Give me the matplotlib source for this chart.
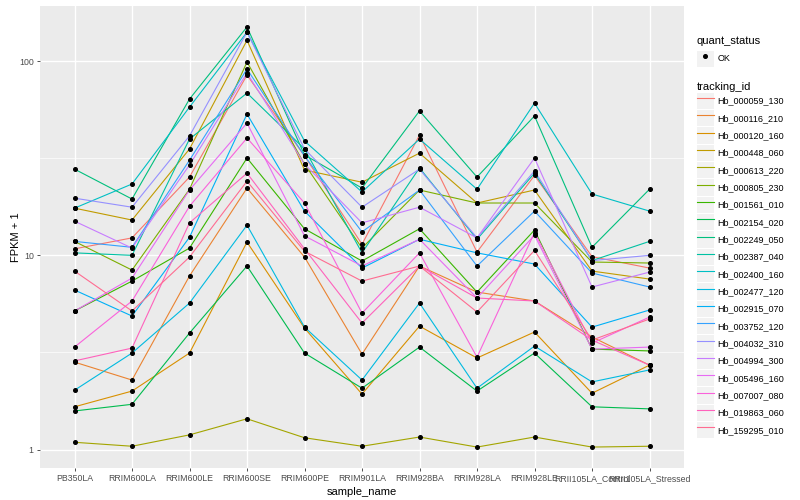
import matplotlib
matplotlib.use('Agg')
import matplotlib.pyplot as plt
from matplotlib.lines import Line2D
from matplotlib.patches import Rectangle
from matplotlib.ticker import NullFormatter

plt.rcParams['font.family'] = ['Liberation Sans', 'DejaVu Sans']

samples = ['PB350LA', 'RRIM600LA', 'RRIM600LE', 'RRIM600SE', 'RRIM600PE', 'RRIM901LA',
           'RRIM928BA', 'RRIM928LA', 'RRIM928LE', 'RRII105LA_Control', 'RRII105LA_Stressed']

# FPKM + 1 per gene, one value per sample
hb_000059_130 = [10.8, 12.3, 25.3, 84.8, 32.5, 11.4, 41.6, 10.4, 25.8, 9.85, 8.60]
hb_000116_210 = [2.82, 2.28, 7.83, 22.2, 9.80, 3.10, 8.81, 6.47, 5.82, 3.80, 2.72]
hb_000120_160 = [1.66, 2.00, 3.14, 11.7, 4.22, 1.93, 4.32, 2.96, 4.03, 1.95, 2.72]
hb_000448_060 = [17.5, 15.2, 35.3, 128, 27.5, 23.8, 33.6, 18.6, 21.7, 8.30, 7.55]
hb_000613_220 = [1.09, 1.04, 1.19, 1.44, 1.15, 1.04, 1.16, 1.03, 1.16, 1.03, 1.04]
hb_000805_230 = [11.8, 8.40, 21.9, 99.0, 29.5, 10.9, 21.7, 18.6, 18.6, 9.24, 9.13]
hb_001561_010 = [5.17, 7.37, 10.9, 31.7, 13.7, 9.35, 13.7, 6.47, 13.5, 3.29, 3.22]
hb_002154_020 = [1.58, 1.71, 3.98, 8.81, 3.14, 2.07, 3.37, 2.00, 3.14, 1.66, 1.62]
hb_002249_050 = [27.8, 19.5, 63.8, 150, 32.9, 22.2, 55.4, 25.3, 52.2, 11.0, 21.9]
hb_002387_040 = [10.3, 10.0, 39.7, 68.5, 35.3, 10.3, 28.2, 12.1, 26.5, 9.40, 11.8]
hb_002400_160 = [17.5, 23.3, 58.0, 141, 38.8, 21.2, 39.7, 21.9, 60.8, 20.7, 16.9]
hb_002477_120 = [2.02, 3.14, 5.68, 14.3, 4.27, 2.28, 5.68, 2.07, 3.41, 2.23, 2.57]
hb_002915_070 = [6.63, 4.87, 12.4, 53.4, 16.9, 8.60, 12.1, 10.3, 9.02, 4.27, 5.23]
hb_003752_120 = [11.8, 11.0, 30.9, 91.0, 32.5, 13.2, 21.7, 8.81, 16.9, 8.11, 6.87]
hb_004032_310 = [19.7, 17.7, 41.2, 141, 35.3, 17.7, 27.8, 12.3, 27.2, 9.40, 10.0]
hb_004994_300 = [15.0, 10.9, 29.2, 86.9, 29.5, 14.7, 17.7, 12.3, 31.7, 6.87, 8.20]
hb_005496_160 = [5.17, 7.64, 21.7, 48.0, 12.6, 8.81, 12.1, 6.03, 12.7, 3.29, 3.37]
hb_007007_080 = [3.37, 5.82, 17.9, 40.2, 18.6, 5.04, 10.3, 2.99, 13.1, 3.53, 4.81]
hb_019863_060 = [2.86, 3.33, 14.7, 26.5, 10.8, 4.48, 8.81, 6.03, 5.82, 3.66, 2.72]
hb_159295_010 = [8.30, 5.17, 9.80, 24.1, 10.5, 7.37, 8.81, 5.11, 10.6, 3.66, 4.70]

tracking_ids = ['Hb_000059_130', 'Hb_000116_210', 'Hb_000120_160', 'Hb_000448_060',
                'Hb_000613_220', 'Hb_000805_230', 'Hb_001561_010', 'Hb_002154_020',
                'Hb_002249_050', 'Hb_002387_040', 'Hb_002400_160', 'Hb_002477_120',
                'Hb_002915_070', 'Hb_003752_120', 'Hb_004032_310', 'Hb_004994_300',
                'Hb_005496_160', 'Hb_007007_080', 'Hb_019863_060', 'Hb_159295_010']
series = [hb_000059_130, hb_000116_210, hb_000120_160, hb_000448_060, hb_000613_220,
          hb_000805_230, hb_001561_010, hb_002154_020, hb_002249_050, hb_002387_040,
          hb_002400_160, hb_002477_120, hb_002915_070, hb_003752_120, hb_004032_310,
          hb_004994_300, hb_005496_160, hb_007007_080, hb_019863_060, hb_159295_010]

# ggplot default hue palette for 20 levels
colors = ['#F8766D', '#EA8331', '#D89000', '#C09B00', '#A3A500', '#7CAE00', '#39B600',
          '#00BB4E', '#00BF7D', '#00C1A3', '#00BFC4', '#00BAE0', '#00B0F6', '#35A2FF',
          '#9590FF', '#C77CFF', '#E76BF3', '#FA62DB', '#FF62BC', '#FF6C91']

fig = plt.figure(figsize=(8, 5), dpi=100)
ax = fig.add_axes([40 / 800, 32 / 500, 644 / 800, 462 / 500])

x = list(range(len(samples)))
for vals, col in zip(series, colors):
    ax.plot(x, vals, color=col, lw=0.8, zorder=2)
for vals in series:
    ax.plot(x, vals, ls='', marker='o', ms=2.6, color='black', zorder=3)

ax.set_yscale('log')
ax.set_ylim(10 ** -0.095, 10 ** 2.284)
ax.set_xlim(-0.6, len(samples) - 0.4)
ax.set_facecolor('#EBEBEB')
for s in ax.spines.values():
    s.set_visible(False)

ax.set_xticks(x)
ax.set_xticklabels(samples)
ax.set_yticks([1, 10, 100])
ax.set_yticklabels(['1', '10', '100'])
ax.set_yticks([10 ** 0.5, 10 ** 1.5], minor=True)
ax.yaxis.set_minor_formatter(NullFormatter())
ax.grid(which='major', color='white', lw=1.0)
ax.grid(which='minor', axis='y', color='white', lw=0.5)
ax.set_axisbelow(True)
ax.tick_params(which='minor', length=0)
ax.tick_params(which='major', length=2.5, width=0.6, color='#333333',
               labelsize=6.3, labelcolor='#4D4D4D', pad=2)

ax.set_xlabel('sample_name', fontsize=8, labelpad=3)
ax.set_ylabel('FPKM + 1', fontsize=8, labelpad=-1.5)

# legends (grey key boxes like ggplot)
key_box = dict(facecolor='#F2F2F2', edgecolor='none')
h1 = [(Rectangle((0, 0), 1, 1, **key_box),
       Line2D([], [], ls='', marker='o', ms=2.6, color='black'))]
leg1 = fig.legend(h1, ['OK'], title='quant_status', loc='upper left',
                  bbox_to_anchor=(0.871, 0.928), frameon=False, fontsize=6.5,
                  title_fontsize=8, alignment='left', handlelength=1.9,
                  handleheight=2.4, handletextpad=0.4, borderaxespad=0, borderpad=0)
h2 = [(Rectangle((0, 0), 1, 1, **key_box), Line2D([], [], color=c, lw=0.8)) for c in colors]
leg2 = fig.legend(h2, tracking_ids, title='tracking_id', loc='upper left',
                  bbox_to_anchor=(0.871, 0.837), frameon=False, fontsize=6.5,
                  title_fontsize=8, alignment='left', handlelength=1.9,
                  handleheight=2.4, handletextpad=0.4, labelspacing=0.115,
                  borderaxespad=0, borderpad=0)

fig.savefig('out.png', dpi=100)
